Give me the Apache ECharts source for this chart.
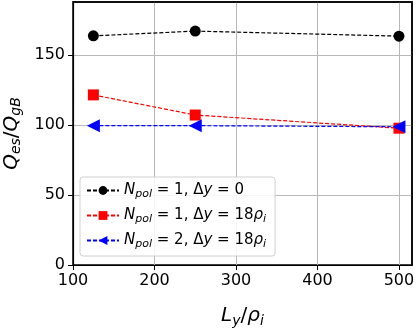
<!DOCTYPE html>
<html>
<head>
<meta charset="utf-8">
<script src="https://cdn.jsdelivr.net/npm/echarts@6/dist/echarts.min.js"></script>
<style>
  html, body { margin: 0; padding: 0; background: #fff; }
  #chart { width: 416px; height: 329px; }
</style>
</head>
<body>
<div id="chart"></div>
<script>
// data
const lengths = [125, 250, 500];
const qSingleNoShift = [163.8, 167.2, 163.6];
const qSingleShift = [121.6, 107.2, 97.8];
const qDoubleShift = [99.6, 99.6, 98.8];
const xTicks = [100, 200, 300, 400, 500];
const yTicks = [0, 50, 100, 150];
const seriesNames = ['s0', 's1', 's2'];
const legendTexts = [
  '{i|N}{sub|pol}{t| = 1, Δ}{i|y}{t| = 0}',
  '{i|N}{sub|pol}{t| = 1, Δ}{i|y}{t| = 18}{i|ρ}{sub|i}',
  '{i|N}{sub|pol}{t| = 2, Δ}{i|y}{t| = 18}{i|ρ}{sub|i}'
];

const FONT = 'DejaVu Sans';
const chart = echarts.init(document.getElementById('chart'), null, { renderer: 'canvas' });

const mkSeries = (name, vals, color, symbol, size, rotate) => ({
  name: name,
  type: 'line',
  xAxisIndex: 0,
  yAxisIndex: 0,
  data: lengths.map((x, i) => [x, vals[i]]),
  symbol: symbol,
  symbolSize: size,
  symbolRotate: rotate || 0,
  lineStyle: { color: color, width: 1.2, type: [4, 2] },
  itemStyle: { color: color },
  z: 3
});

const legendRich = {
  t: { fontFamily: FONT, fontSize: 15, color: '#000' },
  i: { fontFamily: FONT, fontSize: 15, fontStyle: 'italic', color: '#000' },
  sub: { fontFamily: FONT, fontSize: 11, fontStyle: 'italic', color: '#000', verticalAlign: 'bottom', padding: [8, 0, 0, 0] }
};

const nameRich = {
  t: { fontFamily: FONT, fontSize: 20, color: '#000' },
  i: { fontFamily: FONT, fontSize: 20, fontStyle: 'italic', color: '#000' },
  sub: { fontFamily: FONT, fontSize: 14, fontStyle: 'italic', color: '#000', verticalAlign: 'bottom', padding: [10, 0, 0, 0] }
};

// frame-only axes for the top and right spines
const spine = (extra) => Object.assign({
  type: 'value',
  axisLine: { show: true, onZero: false, lineStyle: { color: '#000', width: 1.5 } },
  axisTick: { show: false },
  axisLabel: { show: false },
  splitLine: { show: false }
}, extra);

chart.setOption({
  animation: false,
  grid: {
    left: 73, right: 4, top: 2, bottom: 64,
    outerBoundsMode: 'none',
    containLabel: false,
    show: true,
    borderColor: '#000',
    borderWidth: 1.5,
    backgroundColor: 'rgba(255,255,255,0)'
  },
  legend: {
    orient: 'vertical',
    left: 80, top: 177,
    data: seriesNames,
    itemWidth: 32, itemHeight: 11,
    itemGap: 8,
    padding: [6, 9, 6, 6],
    backgroundColor: 'rgba(255,255,255,0.85)',
    borderColor: '#d0d0d0', borderWidth: 1, borderRadius: 3,
    formatter: (name) => legendTexts[seriesNames.indexOf(name)],
    textStyle: { rich: legendRich }
  },
  xAxis: [{
    type: 'value',
    position: 'bottom',
    min: 100, max: 516, interval: 100,
    name: '{i|L}{sub|y}{t|/}{i|ρ}{sub|i}',
    nameLocation: 'middle', nameGap: 39,
    nameTextStyle: { rich: nameRich },
    axisLine: { show: true, onZero: false, lineStyle: { color: '#000', width: 1.2 } },
    axisTick: { show: true, inside: false, length: 5, customValues: xTicks, lineStyle: { color: '#000' } },
    axisLabel: {
      color: '#000', fontFamily: FONT, fontSize: 16, margin: 8,
      customValues: xTicks
    },
    splitLine: { show: true, lineStyle: { color: '#b8b8b8', width: 1 } }
  }, spine({ position: 'top', min: 100, max: 516 })],
  yAxis: [{
    type: 'value',
    position: 'left',
    min: 0, max: 188, interval: 50,
    name: '{i|Q}{sub|es}{t|/}{i|Q}{sub|gB}',
    nameLocation: 'middle', nameGap: 47,
    nameRotate: 90,
    nameTextStyle: { rich: nameRich },
    axisLine: { show: true, onZero: false, lineStyle: { color: '#000', width: 1.2 } },
    axisTick: { show: true, inside: false, length: 5, customValues: yTicks, lineStyle: { color: '#000' } },
    axisLabel: {
      color: '#000', fontFamily: FONT, fontSize: 16, margin: 8,
      customValues: yTicks
    },
    splitLine: { show: true, lineStyle: { color: '#b8b8b8', width: 1 } }
  }, spine({ position: 'right', min: 0, max: 188 })],
  series: [
    mkSeries(seriesNames[0], qSingleNoShift, '#000000', 'circle', 11),
    mkSeries(seriesNames[1], qSingleShift, '#ff0000', 'rect', 11),
    mkSeries(seriesNames[2], qDoubleShift, '#0000ff', 'triangle', 13, 90)
  ]
});
</script>
</body>
</html>
